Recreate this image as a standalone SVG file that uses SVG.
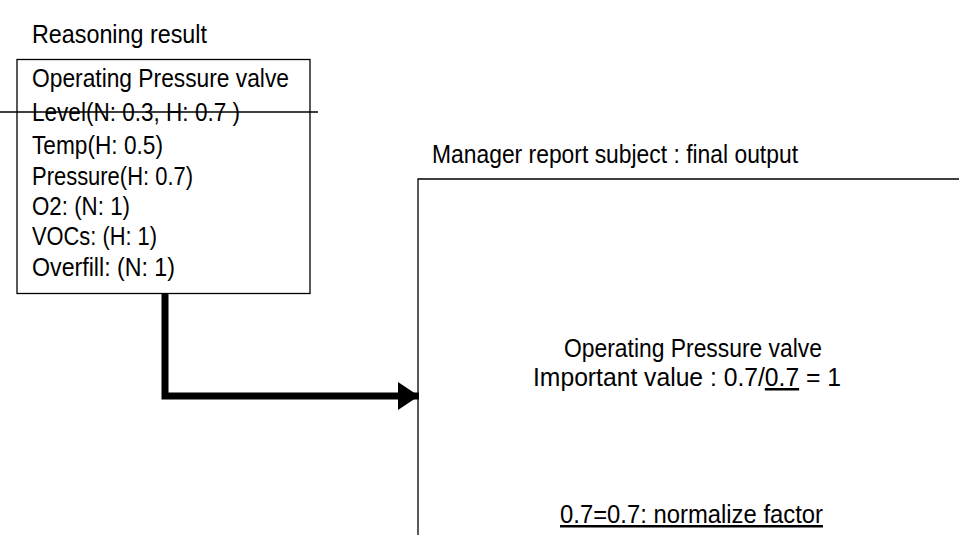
<svg xmlns="http://www.w3.org/2000/svg" width="959" height="535" viewBox="0 0 959 535">
  <style>
    .t { font-family: "Liberation Sans", Arial, sans-serif; font-size: 25px; fill: #000; }
    .box { fill: none; stroke: #000; stroke-width: 1.3; }
    .u { text-decoration: underline; }
  </style>
  <defs>
    <marker id="ah" markerUnits="userSpaceOnUse" markerWidth="22" markerHeight="30" refX="21" refY="14" orient="auto">
      <polygon points="0,0 21,14 0,28" fill="#000"/>
    </marker>
  </defs>
  <rect width="959" height="535" fill="#fff"/>

  <g id="reasoning-result">
    <text class="t" x="32" y="43" textLength="175" lengthAdjust="spacingAndGlyphs">Reasoning result</text>
    <rect class="box" x="17" y="59.5" width="293" height="234"/>
    <text class="t" x="32" y="87" textLength="257" lengthAdjust="spacingAndGlyphs">Operating Pressure valve</text>
    <text class="t" x="32" y="121" textLength="208" lengthAdjust="spacingAndGlyphs">Level(N: 0.3, H: 0.7 )</text>
    <line x1="0" y1="112" x2="318" y2="112" stroke="#000" stroke-width="1.3"/>
    <text class="t" x="32" y="154" textLength="131" lengthAdjust="spacingAndGlyphs">Temp(H: 0.5)</text>
    <text class="t" x="32" y="185" textLength="161" lengthAdjust="spacingAndGlyphs">Pressure(H: 0.7)</text>
    <text class="t" x="32" y="215" textLength="98" lengthAdjust="spacingAndGlyphs">O2: (N: 1)</text>
    <text class="t" x="32" y="245" textLength="125" lengthAdjust="spacingAndGlyphs">VOCs: (H: 1)</text>
    <text class="t" x="32" y="276" textLength="143" lengthAdjust="spacingAndGlyphs">Overfill: (N: 1)</text>
  </g>

  <g id="manager-report">
    <text class="t" x="432" y="163" textLength="366" lengthAdjust="spacingAndGlyphs">Manager report subject : final output</text>
    <path class="box" d="M418 535 V179 H959"/>
    <text class="t" x="564" y="357" textLength="258" lengthAdjust="spacingAndGlyphs">Operating Pressure valve</text>
    <text class="t" x="533" y="386" textLength="308" lengthAdjust="spacingAndGlyphs">Important value : 0.7/<tspan class="u">0.7</tspan> = 1</text>
    <text class="t u" x="560" y="523" textLength="263" lengthAdjust="spacingAndGlyphs">0.7=0.7: normalize factor</text>
  </g>

  <g id="connectors">
    <path d="M165 294 V396 H419" fill="none" stroke="#000" stroke-width="7" stroke-linejoin="miter" marker-end="url(#ah)"/>
  </g>
</svg>
